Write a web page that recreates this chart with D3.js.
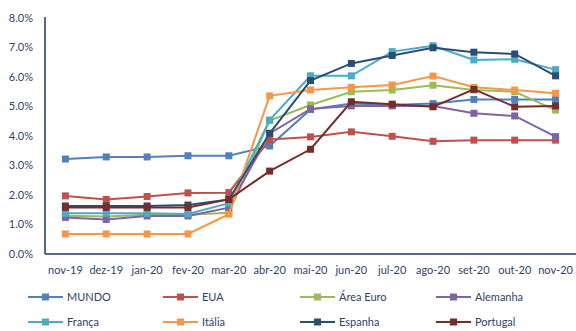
<!DOCTYPE html>
<html>
<head>
<meta charset="utf-8">
<script src="https://cdnjs.cloudflare.com/ajax/libs/d3/7.8.5/d3.min.js"></script>
<style>
  html, body { margin: 0; padding: 0; background: #fff; }
  svg text { font-family: Lato, "Open Sans", sans-serif; }
</style>
</head>
<body>
<svg id="chart" width="576" height="331"></svg>
<script>
// Monthly series, in percent
const months = ["nov-19","dez-19","jan-20","fev-20","mar-20","abr-20","mai-20","jun-20","jul-20","ago-20","set-20","out-20","nov-20"];
const yTicks = [0, 1, 2, 3, 4, 5, 6, 7, 8];

const mundo    = [3.22, 3.29, 3.29, 3.33, 3.33, 3.66, 4.90, 5.10, 5.05, 5.10, 5.24, 5.24, 5.24];
const eua      = [1.97, 1.85, 1.95, 2.07, 2.08, 3.88, 3.97, 4.14, 3.99, 3.82, 3.86, 3.86, 3.86];
const areaEuro = [1.30, 1.27, 1.33, 1.33, 1.40, 4.52, 5.05, 5.50, 5.56, 5.72, 5.56, 5.50, 4.88];
const alemanha = [1.24, 1.17, 1.29, 1.29, 1.57, 4.09, 4.92, 5.02, 5.02, 5.02, 4.77, 4.68, 3.98];
const franca   = [1.38, 1.38, 1.38, 1.36, 1.72, 4.54, 6.04, 6.04, 6.86, 7.06, 6.58, 6.60, 6.25];
const italia   = [0.68, 0.68, 0.68, 0.68, 1.35, 5.36, 5.56, 5.65, 5.73, 6.03, 5.65, 5.56, 5.45];
const espanha  = [1.63, 1.63, 1.63, 1.66, 1.85, 4.09, 5.88, 6.46, 6.73, 6.99, 6.84, 6.78, 6.04];
const portugal = [1.58, 1.58, 1.58, 1.58, 1.85, 2.81, 3.55, 5.16, 5.08, 4.99, 5.58, 4.99, 5.02];

const seriesNames  = ["MUNDO", "EUA", "Área Euro", "Alemanha", "França", "Itália", "Espanha", "Portugal"];
const seriesValues = [mundo, eua, areaEuro, alemanha, franca, italia, espanha, portugal];
const seriesColors = ["#4F81BD", "#C0504D", "#9BBB59", "#8064A2", "#4BACC6", "#F79646", "#2C4D75", "#772C2A"];

const svg = d3.select("#chart");
const axisColor = "#1F3864";
const textColor = "#2E3F6B";

const x = d3.scaleBand().domain(months).range([45, 576]);
const y = d3.scaleLinear().domain([0, 8]).range([254, 18]);
const cx = m => x(m) + x.bandwidth() / 2;

// y axis labels
svg.append("g").selectAll("text").data(yTicks).join("text")
  .attr("x", 33).attr("y", d => y(d)).attr("dy", "0.35em")
  .attr("text-anchor", "end").attr("font-size", 11).attr("fill", textColor)
  .text(d => d.toFixed(1) + "%");

// axis lines
svg.append("line").attr("x1", 45).attr("x2", 45).attr("y1", 17).attr("y2", 254)
  .attr("stroke", axisColor).attr("stroke-width", 1.5);
svg.append("line").attr("x1", 45).attr("x2", 576).attr("y1", 254).attr("y2", 254)
  .attr("stroke", axisColor).attr("stroke-width", 1.5);

// x axis labels
svg.append("g").selectAll("text").data(months).join("text")
  .attr("x", d => cx(d)).attr("y", 274)
  .attr("text-anchor", "middle").attr("font-size", 11).attr("fill", textColor)
  .text(d => d);

// series lines with square markers
const line = d3.line().x((d, i) => cx(months[i])).y(d => y(d));
seriesValues.forEach((vals, k) => {
  const g = svg.append("g");
  g.append("path").datum(vals).attr("d", line)
    .attr("fill", "none").attr("stroke", seriesColors[k]).attr("stroke-width", 2);
  g.selectAll("rect").data(vals).join("rect")
    .attr("x", (d, i) => cx(months[i]) - 3.5).attr("y", d => y(d) - 3.5)
    .attr("width", 7).attr("height", 7).attr("fill", seriesColors[k]);
});

// legend
const legCols = [28, 163, 300, 436];
const legRows = [297, 322];
seriesNames.forEach((name, k) => {
  const lx = legCols[k % 4], ly = legRows[Math.floor(k / 4)];
  const g = svg.append("g");
  g.append("line").attr("x1", lx).attr("x2", lx + 35).attr("y1", ly).attr("y2", ly)
    .attr("stroke", seriesColors[k]).attr("stroke-width", 2);
  g.append("rect").attr("x", lx + 17.5 - 3.5).attr("y", ly - 3.5)
    .attr("width", 7).attr("height", 7).attr("fill", seriesColors[k]);
  g.append("text").attr("x", lx + 39).attr("y", ly).attr("dy", "0.35em")
    .attr("font-size", 11).attr("fill", textColor).text(name);
});
</script>
</body>
</html>
